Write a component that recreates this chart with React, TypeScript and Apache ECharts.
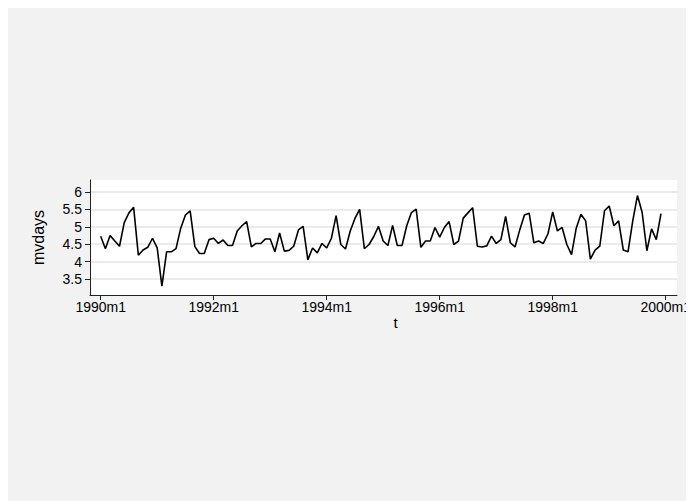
import React, { useEffect, useRef } from "react";
import * as echarts from "echarts";

// Monthly mvdays, 1990m1 .. 1999m12 (index 0 = 1990m1)
const mvdays: number[] = [
  // 1990
  4.73, 4.37, 4.75, 4.59, 4.44, 5.12, 5.40, 5.56, 4.18, 4.33, 4.41, 4.67,
  // 1991
  4.39, 3.29, 4.28, 4.28, 4.37, 4.96, 5.34, 5.46, 4.43, 4.23, 4.23, 4.63,
  // 1992
  4.67, 4.52, 4.62, 4.46, 4.46, 4.88, 5.03, 5.15, 4.42, 4.52, 4.52, 4.65,
  // 1993
  4.65, 4.28, 4.82, 4.30, 4.32, 4.44, 4.91, 5.01, 4.05, 4.39, 4.25, 4.52,
  // 1994
  4.39, 4.67, 5.32, 4.49, 4.36, 4.88, 5.24, 5.50, 4.37, 4.49, 4.72, 5.01,
  // 1995
  4.59, 4.46, 5.04, 4.46, 4.46, 5.03, 5.41, 5.51, 4.41, 4.59, 4.59, 4.98,
  // 1996
  4.70, 4.98, 5.15, 4.49, 4.59, 5.25, 5.40, 5.55, 4.44, 4.42, 4.45, 4.73,
  // 1997
  4.52, 4.63, 5.30, 4.54, 4.42, 4.91, 5.34, 5.39, 4.54, 4.59, 4.52, 4.80,
  // 1998
  5.43, 4.88, 4.98, 4.49, 4.20, 4.96, 5.36, 5.17, 4.07, 4.33, 4.44, 5.46,
  // 1999
  5.60, 5.03, 5.17, 4.33, 4.28, 5.17, 5.90, 5.41, 4.31, 4.94, 4.63, 5.38,
];

const startYear = 1990;
const xTickValues: number[] = [0, 24, 48, 72, 96, 120];
const yTickValues: number[] = [3.5, 4, 4.5, 5, 5.5, 6];

const monthLabel = (v: number): string => {
  const y = startYear + Math.floor(v / 12);
  const m = (v % 12) + 1;
  return `${y}m${m}`;
};

const FONT = "'Liberation Sans', Arial, Helvetica, sans-serif";

export default function App() {
  const ref = useRef<HTMLDivElement>(null);

  useEffect(() => {
    if (!ref.current) return;
    const chart = echarts.init(ref.current, undefined, { renderer: "svg" });
    const data = mvdays.map((v, i) => [i, v]);
    chart.setOption({
      animation: false,
      backgroundColor: "#f2f2f2",
      textStyle: { fontFamily: FONT, color: "#000" },
      grid: {
        left: 84,
        right: 10,
        top: 172,
        bottom: 206,
        show: true,
        backgroundColor: "#ffffff",
        borderWidth: 0,
      },
      xAxis: {
        type: "value",
        min: -2.27,
        max: 122.39,
        name: "t",
        nameLocation: "middle",
        nameGap: 15,
        nameTextStyle: {
          fontFamily: FONT,
          fontSize: 15,
          color: "#000",
          padding: [0, 0, 0, 24],
        },
        axisLine: { show: true, onZero: false, lineStyle: { color: "#222", width: 1 } },
        axisTick: { show: true, length: 5, customValues: xTickValues, lineStyle: { color: "#222" } },
        axisLabel: {
          customValues: xTickValues,
          formatter: (v: number) => monthLabel(Math.round(v)),
          fontFamily: FONT,
          fontSize: 14,
          color: "#000",
          margin: 5,
        },
        splitLine: { show: false },
      },
      yAxis: {
        type: "value",
        min: 3.036,
        max: 6.347,
        name: "mvdays",
        nameLocation: "middle",
        nameGap: 44,
        nameRotate: 90,
        nameTextStyle: { fontFamily: FONT, fontSize: 16, color: "#000" },
        axisLine: { show: true, onZero: false, lineStyle: { color: "#222", width: 1 } },
        axisTick: { show: true, length: 5, customValues: yTickValues, lineStyle: { color: "#222" } },
        axisLabel: {
          customValues: yTickValues,
          fontFamily: FONT,
          fontSize: 14,
          color: "#000",
          margin: 8,
        },
        splitLine: { show: true, lineStyle: { color: "#e4e4e4", width: 1.5 } },
      },
      series: [
        {
          type: "line",
          data,
          showSymbol: false,
          symbol: "none",
          lineStyle: { color: "#000", width: 1.6 },
        },
      ],
    });
    return () => chart.dispose();
  }, []);

  return (
    <div
      ref={ref}
      style={{ width: 688, height: 493, position: "relative", left: -2 }}
    />
  );
}
